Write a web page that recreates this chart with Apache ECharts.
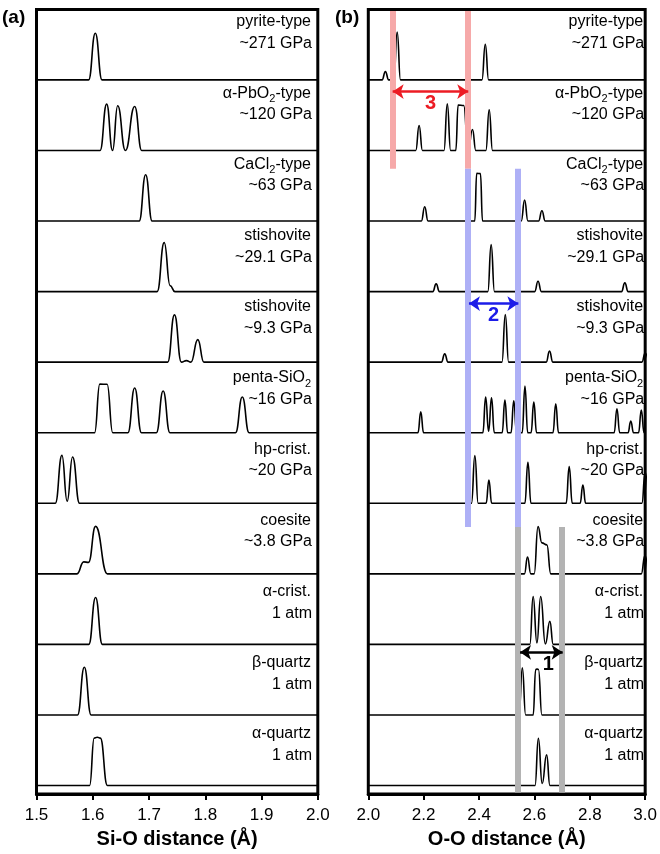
<!DOCTYPE html>
<html><head><meta charset="utf-8">
<script src="https://cdn.jsdelivr.net/npm/echarts@6/dist/echarts.min.js"></script>
<style>html,body{margin:0;padding:0;background:#fff}#c{width:660px;height:854px}</style>
</head><body><div id="c"></div>
<script>
// ---------------- DATA ----------------
const phaseNames = ['pyrite-type','α-PbO₂-type','CaCl₂-type','stishovite','stishovite','penta-SiO₂','hp-crist.','coesite','α-crist.','β-quartz','α-quartz'];
const pressures  = ['~271 GPa','~120 GPa','~63 GPa','~29.1 GPa','~9.3 GPa','~16 GPa','~20 GPa','~3.8 GPa','1 atm','1 atm','1 atm'];

const siOTitle = 'Si-O distance (Å)';
const ooTitle  = 'O-O distance (Å)';
const siORange = [1.5, 2.0, 0.1];
const ooRange  = [2.0, 3.0, 0.2];

// Si-O profiles: [distance, intensity] vertices
const siO_pyrite   = [[1.5926,0],[1.6045,46.7],[1.6165,0]];
const siO_aPbO2    = [[1.613,0],[1.6247,46.4],[1.6352,0],[1.6443,44.7],[1.658,0],[1.6745,44],[1.687,0]];
const siO_CaCl2    = [[1.6825,0],[1.694,46.3],[1.7055,0]];
const siO_stish29  = [[1.7145,0],[1.727,49],[1.7375,6],[1.746,0]];
const siO_stish9   = [[1.7332,0],[1.7452,47.3],[1.7575,0],[1.7665,1.5],[1.7745,0],[1.7867,22.6],[1.7975,0]];
const siO_penta    = [[1.6033,0],[1.6125,48.7],[1.6255,48.5],[1.6355,0],[1.6625,0],[1.6745,44.7],[1.6865,0],[1.7131,0],[1.7251,41.7],[1.7371,0],[1.8538,0],[1.8658,35.7],[1.8778,0]];
const siO_hpCrist  = [[1.5335,0],[1.5452,48],[1.5545,2],[1.5641,46.4],[1.5765,0]];
const siO_coesite  = [[1.572,0],[1.584,12],[1.5925,11.5],[1.605,47.5],[1.626,0]];
const siO_aCrist   = [[1.593,0],[1.605,47],[1.617,0]];
const siO_bQuartz  = [[1.573,0],[1.585,47.7],[1.597,0]];
const siO_aQuartz  = [[1.5945,0],[1.6025,47.5],[1.608,48.4],[1.6135,47.5],[1.626,0]];

// O-O profiles
const oo_pyrite   = [[2.0497,0],[2.0617,8.3],[2.0737,0],[2.0923,0],[2.1043,48],[2.1163,0],[2.4105,0],[2.4225,35.7],[2.4345,0]];
const oo_aPbO2    = [[2.1715,0],[2.1835,25],[2.1955,0],[2.2733,0],[2.2853,46.7],[2.2973,0],[2.316,0],[2.3245,45.5],[2.3445,45],[2.3605,0],[2.3763,21],[2.3883,0],[2.4246,0],[2.4366,40.7],[2.4486,0]];
const oo_CaCl2    = [[2.1917,0],[2.2037,14.3],[2.2157,0],[2.3845,0],[2.3915,47.7],[2.405,47.5],[2.4125,0],[2.5525,0],[2.5645,21],[2.5765,0],[2.615,0],[2.627,10.3],[2.639,0]];
const oo_stish29  = [[2.233,0],[2.245,7.7],[2.257,0],[2.4317,0],[2.4437,47],[2.4557,0],[2.601,0],[2.613,10.3],[2.625,0],[2.9145,0],[2.9265,8.7],[2.9385,0]];
const oo_stish9   = [[2.264,0],[2.276,8.3],[2.288,0],[2.4828,0],[2.4948,47.7],[2.5068,0],[2.6425,0],[2.6545,11],[2.6665,0],[2.988,0],[3.0,9],[3.012,0]];
const oo_penta    = [[2.1795,0],[2.1895,21],[2.1995,0],[2.4138,0],[2.4238,35.7],[2.4345,1.5],[2.4451,35],[2.4551,0],[2.4834,0],[2.4934,32.7],[2.5034,0],[2.5154,0],[2.5254,32],[2.5354,0],[2.5558,0],[2.5658,46.7],[2.5758,0],[2.5878,0],[2.5978,30.7],[2.6078,0],[2.667,0],[2.677,29],[2.687,0],[2.888,0],[2.898,24],[2.908,0],[2.938,0],[2.948,11.7],[2.958,0],[2.976,0],[2.986,22.7],[2.996,0]];
const oo_hpCrist  = [[2.3728,0],[2.3848,47.7],[2.3968,0],[2.4256,0],[2.4356,23.3],[2.4456,0],[2.5655,0],[2.5765,41],[2.5875,0],[2.7146,0],[2.7256,36.7],[2.7366,0],[2.765,0],[2.775,18.3],[2.785,0],[2.988,0],[3.0,31],[3.012,0]];
const oo_coesite  = [[2.564,0],[2.575,16.7],[2.587,0],[2.599,0],[2.613,47.3],[2.627,31],[2.645,29],[2.659,0],[2.986,0],[2.999,18.3],[3.011,0]];
const oo_aCrist   = [[2.5835,0],[2.5953,48],[2.609,1.5],[2.6226,48],[2.6395,0.5],[2.6557,23],[2.6677,0]];
const oo_bQuartz  = [[2.5443,0],[2.5563,47.3],[2.5683,0],[2.5955,0],[2.6045,45.5],[2.6095,46],[2.6145,45.5],[2.627,0]];
const oo_aQuartz  = [[2.6022,0],[2.6142,47.3],[2.628,2],[2.644,30.7],[2.656,0]];

// guide bands in (b): distance, top / bottom level (a.u.)
const bandX      = [2.09, 2.36, 2.36, 2.541, 2.541, 2.70];
const bandTop    = [784.3, 784.3, 626.3, 626.3, 267.6, 267.6];
const bandBottom = [626.3, 626.3, 267.6, 267.6, 1.5, 1.5];
const bandGroup  = [0, 0, 1, 1, 2, 2];

// arrows in (b)
const arrowFrom  = [2.088, 2.3635, 2.548];
const arrowTo    = [2.361, 2.542, 2.702];
const arrowLevel = [703.6, 491.3, 142];
const arrowText  = ['3', '2', '1'];

// ---------------- STYLE / LAYOUT ----------------
const FONT = "'Liberation Sans', Arial, Helvetica, sans-serif";
const groupColors = ['#f6a9a9', '#aeb0f6', '#b3b3b3'];
const arrowColors = ['#ec1c24', '#1c1ce8', '#000000'];
const ROW_BASE = 8.6, ROW_STEP = 70.67, Y_MAX = 785.8;
const GRID_TOP = 9.5;
const LABEL_TOP = 43.5, LABEL_STEP = 71.2;
const grids = [{left: 36.5, width: 281.3}, {left: 368.3, width: 281.7}];

const siOProfiles = [siO_pyrite, siO_aPbO2, siO_CaCl2, siO_stish29, siO_stish9, siO_penta, siO_hpCrist, siO_coesite, siO_aCrist, siO_bQuartz, siO_aQuartz];
const ooProfiles  = [oo_pyrite, oo_aPbO2, oo_CaCl2, oo_stish29, oo_stish9, oo_penta, oo_hpCrist, oo_coesite, oo_aCrist, oo_bQuartz, oo_aQuartz];

function rowSeries(profiles, gi, range) {
  return profiles.map((prof, k) => {
    const off = ROW_BASE + ROW_STEP * (10 - k);
    const endX = Math.max(range[1], prof[prof.length - 1][0]);
    const pts = [[range[0], 0]].concat(prof, [[endX, 0]]).map(p => [p[0], off + p[1]]);
    return {type: 'line', xAxisIndex: gi, yAxisIndex: gi, data: pts, smooth: 0.5, smoothMonotone: 'x',
      symbol: 'none', silent: true, z: 3, lineStyle: {color: '#000', width: 1.6}};
  });
}

const bandSeries = {
  type: 'line', xAxisIndex: 1, yAxisIndex: 1, data: [[2.0, 0]], symbol: 'none', z: 1,
  lineStyle: {opacity: 0}, silent: true,
  markLine: {silent: true, animation: false, symbol: ['none', 'none'], label: {show: false},
    lineStyle: {width: 6, type: 'solid'},
    data: bandX.map((x, i) => [
      {coord: [x, bandTop[i]], lineStyle: {color: groupColors[bandGroup[i]], width: 6, type: 'solid', opacity: 1}},
      {coord: [x, bandBottom[i]]}
    ])}
};

const arrowSeries = {
  type: 'line', xAxisIndex: 1, yAxisIndex: 1, data: [[2.0, 0]], symbol: 'none', z: 5,
  lineStyle: {opacity: 0}, silent: true,
  markLine: {silent: true, animation: false, symbol: ['arrow', 'arrow'], symbolSize: [11, 11],
    data: arrowFrom.map((x, i) => [
      {coord: [x, arrowLevel[i]], lineStyle: {color: arrowColors[i], width: 2.5, type: 'solid'},
        itemStyle: {color: arrowColors[i]},
        label: {show: true, formatter: arrowText[i], position: 'insideMiddleBottom', distance: 2,
          color: arrowColors[i], fontFamily: FONT, fontWeight: 'bold', fontSize: 20,
          offset: [i === 2 ? 7 : 0, 0]}},
      {coord: [arrowTo[i], arrowLevel[i]]}
    ])}
};

function xAxisCfg(gi, range, title) {
  return {type: 'value', gridIndex: gi, min: range[0], max: range[1], interval: range[2],
    name: title, nameLocation: 'middle', nameGap: 33,
    nameTextStyle: {fontFamily: FONT, fontWeight: 'bold', fontSize: 20, color: '#000'},
    axisLine: {show: true, lineStyle: {color: '#000', width: 3}},
    axisTick: {show: true, inside: false, length: 6, lineStyle: {color: '#000', width: 2}},
    axisLabel: {fontFamily: FONT, fontSize: 17, color: '#000', margin: 13,
      showMinLabel: true, showMaxLabel: true, formatter: v => v.toFixed(1)},
    splitLine: {show: false}};
}
function yAxisCfg(gi) {
  return {type: 'value', gridIndex: gi, min: 0, max: Y_MAX, show: false, splitLine: {show: false}};
}

// row labels
function richName(s) {
  return s.split(/(₂)/).filter(t => t).map(t => t === '₂' ? '{s|2}' : '{n|' + t + '}').join('');
}
const graphics = [];
grids.forEach((g, gi) => {
  const rx = g.left + g.width - 5.8;
  phaseNames.forEach((name, k) => {
    const y2 = LABEL_TOP + LABEL_STEP * k;
    graphics.push({type: 'text', x: rx - 1, y: y2 - 21.5, silent: true, z: 10,
      style: {text: richName(name), align: 'right', verticalAlign: 'middle', textAlign: 'right', textVerticalAlign: 'middle',
        fill: '#000', rich: {n: {fontFamily: FONT, fontSize: 16, lineHeight: 22, verticalAlign: 'middle'},
                             s: {fontFamily: FONT, fontSize: 11, lineHeight: 22, verticalAlign: 'bottom'}}}});
    graphics.push({type: 'text', x: rx, y: y2, silent: true, z: 10,
      style: {text: pressures[k], align: 'right', verticalAlign: 'middle', textAlign: 'right', textVerticalAlign: 'middle',
        fill: '#000', font: "16px " + FONT}});
  });
});
graphics.push({type: 'text', x: 2, y: 17.5, style: {text: '(a)', fill: '#000', font: "bold 19px " + FONT, verticalAlign: 'middle', textVerticalAlign: 'middle'}});
graphics.push({type: 'text', x: 335, y: 17.5, style: {text: '(b)', fill: '#000', font: "bold 19px " + FONT, verticalAlign: 'middle', textVerticalAlign: 'middle'}});

const chart = echarts.init(document.getElementById('c'), null, {renderer: 'canvas'});
chart.setOption({
  backgroundColor: '#fff',
  animation: false,
  grid: grids.map(g => ({left: g.left, width: g.width, top: GRID_TOP, height: Y_MAX, show: true,
    borderColor: '#000', borderWidth: 3, backgroundColor: 'transparent', containLabel: false})),
  xAxis: [xAxisCfg(0, siORange, siOTitle), xAxisCfg(1, ooRange, ooTitle)],
  yAxis: [yAxisCfg(0), yAxisCfg(1)],
  series: [bandSeries].concat(rowSeries(siOProfiles, 0, siORange), rowSeries(ooProfiles, 1, ooRange), [arrowSeries]),
  graphic: graphics
});
</script></body></html>
